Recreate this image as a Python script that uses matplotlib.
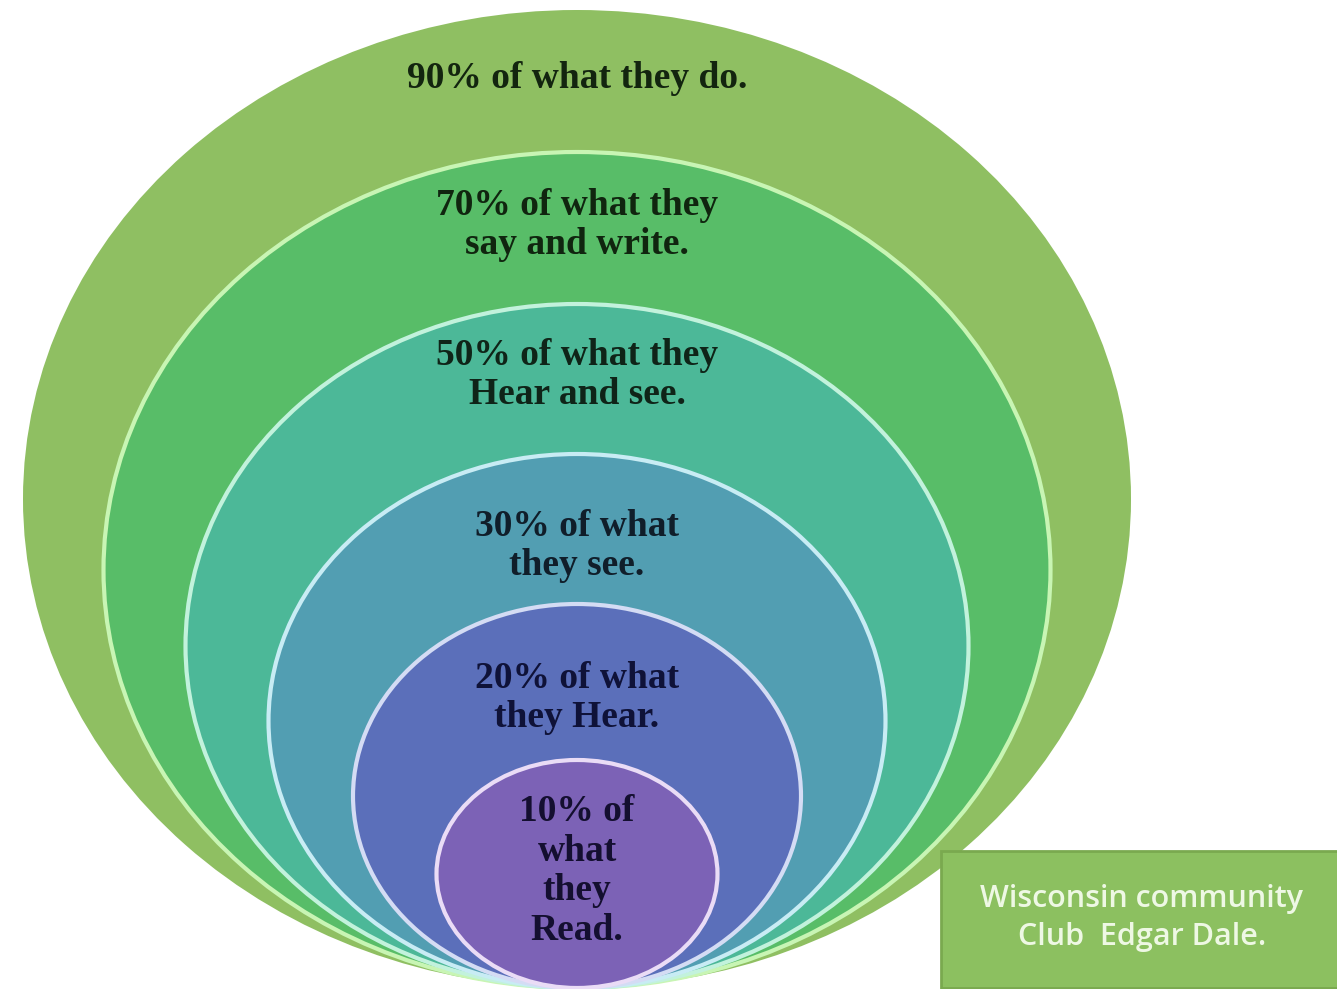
import matplotlib.pyplot as plt
from matplotlib.patches import Ellipse, Rectangle

# levels from outer to inner
labels = ["90% of what they do.",
          "70% of what they\nsay and write.",
          "50% of what they\nHear and see.",
          "30% of what\nthey see.",
          "20% of what\nthey Hear.",
          "10% of\nwhat\nthey\nRead."]
widths = [1108, 947, 783, 617, 448, 281]
heights = [978, 836, 684, 534, 384, 228]
label_y = [78, 225, 375, 546, 698, 871]
fills = ["#8fbf62", "#58bd68", "#4cb898", "#529eb2", "#5b6fba", "#7c62b6"]
edges = ["#8fbf62", "#c8f5b4", "#c2f2dc", "#c8ecf4", "#d4dcf4", "#eadcf6"]
text_cols = ["#13250f", "#10250f", "#0f2418", "#101e2a", "#0f1238", "#140f30"]

cx = 577
bottom = 988

fig = plt.figure(figsize=(13.37, 9.89), dpi=100)
ax = fig.add_axes([0, 0, 1, 1])
ax.set_xlim(0, 1337)
ax.set_ylim(989, 0)
ax.axis("off")

for i, (w, h) in enumerate(zip(widths, heights)):
    lw = 0 if i == 0 else 3
    ax.add_patch(Ellipse((cx, bottom - h / 2), w, h, facecolor=fills[i],
                         edgecolor=edges[i], linewidth=lw, zorder=i + 1))
    ax.text(cx, label_y[i], labels[i], ha="center", va="center",
            fontsize=27, fontweight="bold", family="Liberation Serif",
            color=text_cols[i], linespacing=1.17, zorder=20)

# source box
ax.add_patch(Rectangle((941, 851), 400, 137, facecolor="#8cc060",
                       edgecolor="#7aa94f", linewidth=2, zorder=10))
ax.text(1142, 918, "Wisconsin community\nClub  Edgar Dale.", ha="center",
        va="center", fontsize=22, fontweight="semibold", family="Open Sans",
        color="#eef8e4", linespacing=1.35, zorder=21)

fig.savefig("out.png", dpi=100)
